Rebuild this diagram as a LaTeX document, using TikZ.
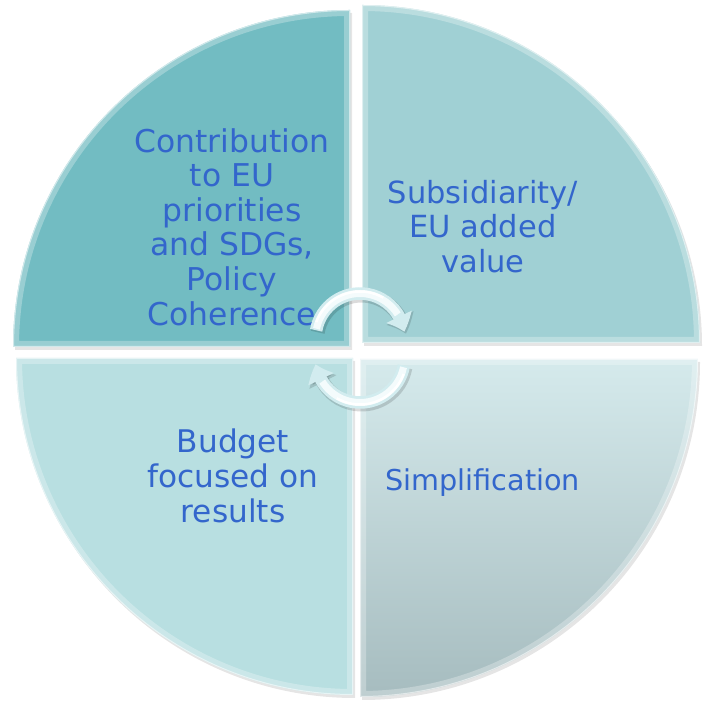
\documentclass[tikz,border=0pt]{standalone}
\usepackage{fontspec}
\setmainfont{DejaVu Sans}
\usetikzlibrary{arrows.meta,bending}
\definecolor{qTL}{HTML}{72BCC2}
\definecolor{qTR}{HTML}{A0D0D4}
\definecolor{qBL}{HTML}{B8DFE1}
\definecolor{qBRt}{HTML}{D5EAEC}
\definecolor{qBRb}{HTML}{A6BCBF}
\definecolor{txt}{HTML}{3366CC}
\definecolor{arrowc}{HTML}{F4FBFC}
\definecolor{arrowedge}{HTML}{D2ECEF}
\begin{document}
\begin{tikzpicture}[x=1pt,y=1pt,
  lbl/.style={text=txt, inner sep=0pt, align=center},
  shadowq/.style={fill=black, opacity=0.10},
  bevel/.style={draw=white, line width=12pt, opacity=0.28},
  edgeline/.style={draw=white, line width=2pt, opacity=0.55},
  pTL/.style={insert path={(350,354) -- (13,354) arc[start angle=180,end angle=90,radius=337] -- cycle}},
  pTR/.style={insert path={(362,358) -- (362,696) arc[start angle=90,end angle=0,radius=338] -- cycle}},
  pBR/.style={insert path={(360,342) -- (698,342) arc[start angle=0,end angle=-90,radius=338] -- cycle}},
  pBL/.style={insert path={(353,343) -- (353,6) arc[start angle=-90,end angle=-180,radius=337] -- cycle}},
  arrshadow/.style={draw=black, opacity=0.14, line width=14pt, -{Triangle[width=29pt,length=17pt,bend]}},
  arrmain/.style={draw=arrowedge, line width=12.5pt, -{Triangle[width=27pt,length=16pt,bend]}},
  arrcore/.style={draw=arrowc, line width=7pt},
  arrhi/.style={draw=white, line width=2.5pt}
]
\useasboundingbox (0,0) rectangle (706,701);
\clip (0,0) rectangle (706,701);

% shadows
\fill[shadowq, shift={(2,-3)}] [pTL];
\fill[shadowq, shift={(2,-3)}] [pTR];
\fill[shadowq, shift={(2,-3)}] [pBR];
\fill[shadowq, shift={(2,-3)}] [pBL];

% quadrants
\fill[qTL] [pTL];
\fill[qTR] [pTR];
\shade[top color=qBRt, bottom color=qBRb] [pBR];
\fill[qBL] [pBL];

% bevels
\begin{scope}\path[clip,pTL]; \path[bevel,pTL]; \path[edgeline,pTL]; \end{scope}
\begin{scope}\path[clip,pTR]; \path[bevel,pTR]; \path[edgeline,pTR]; \end{scope}
\begin{scope}\path[clip,pBR]; \path[bevel,pBR]; \path[edgeline,pBR]; \end{scope}
\begin{scope}\path[clip,pBL]; \path[bevel,pBL]; \path[edgeline,pBL]; \end{scope}

% labels
\node[lbl, font=\fontsize{31.4}{34.6}\selectfont, anchor=north] (tl) at (232,572.9)
  {Contribution\\to EU\\priorities\\and SDGs,\\Policy\\Coherence};
\node[lbl, font=\fontsize{30.5}{34.5}\selectfont, anchor=north] (tr) at (483,521.2)
  {Subsidiarity/\\EU added\\value};
\node[lbl, font=\fontsize{28.7}{34}\selectfont, anchor=north west] (br) at (385,232.8)
  {Simplification};
\node[lbl, font=\fontsize{31.2}{35}\selectfont, anchor=north] (bl) at (233,272.7)
  {Budget\\focused on\\results};

% circular arrows
\coordinate (cT) at (360,363);
\coordinate (cB) at (360,343);
\draw[arrshadow] ([shift={(170:44.5)}]361.5,361) arc[start angle=170,end angle=8,radius=44.5];
\draw[arrmain] ([shift={(170:44.5)}]cT) arc[start angle=170,end angle=8,radius=44.5];
\draw[arrcore] ([shift={(168:44.5)}]cT) arc[start angle=168,end angle=32,radius=44.5];
\draw[arrhi] ([shift={(160:46.5)}]cT) arc[start angle=160,end angle=60,radius=46.5];

\draw[arrshadow] ([shift={(-10:44.5)}]361.5,341) arc[start angle=-10,end angle=-172,radius=44.5];
\draw[arrmain] ([shift={(-10:44.5)}]cB) arc[start angle=-10,end angle=-172,radius=44.5];
\draw[arrcore] ([shift={(-12:44.5)}]cB) arc[start angle=-12,end angle=-148,radius=44.5];
\draw[arrhi] ([shift={(-20:46.5)}]cB) arc[start angle=-20,end angle=-120,radius=46.5];
\end{tikzpicture}
\end{document}
